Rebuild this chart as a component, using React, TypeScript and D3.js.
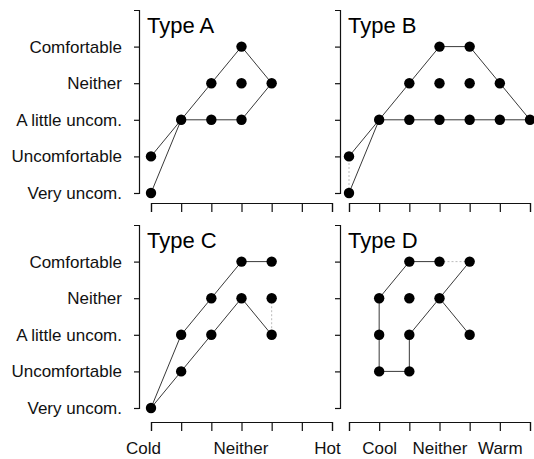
import { useEffect, useRef } from "react";
import * as d3 from "d3";

type Pt = [number, number];

const comfortLevels = [
  "Very uncom.",
  "Uncomfortable",
  "A little uncom.",
  "Neither",
  "Comfortable",
];
const sensationLabelsLeft = ["Cold", "", "", "Neither", "", "", "Hot"];
const sensationLabelsRight = ["", "Cool", "", "Neither", "", "Warm", ""];
const panelTitles = ["Type A", "Type B", "Type C", "Type D"];

// points are [sensation index, comfort index]
const typeAPoints: Pt[] = [
  [0, 0], [0, 1], [1, 2], [2, 2], [3, 2], [2, 3], [3, 3], [4, 3], [3, 4],
];
const typeAUpper: Pt[] = [[0, 1], [1, 2], [2, 3], [3, 4], [4, 3]];
const typeALower: Pt[] = [[0, 0], [1, 2], [2, 2], [3, 2], [4, 3]];

const typeBPoints: Pt[] = [
  [0, 0], [0, 1], [1, 2], [2, 2], [3, 2], [4, 2], [5, 2], [6, 2],
  [2, 3], [3, 3], [4, 3], [5, 3], [3, 4], [4, 4],
];
const typeBUpper: Pt[] = [[0, 1], [1, 2], [2, 3], [3, 4], [4, 4], [5, 3], [6, 2]];
const typeBLower: Pt[] = [[0, 0], [1, 2], [2, 2], [3, 2], [4, 2], [5, 2], [6, 2]];
const typeBFaint: Pt[] = [[0, 0], [0, 1]];

const typeCPoints: Pt[] = [
  [0, 0], [1, 1], [1, 2], [2, 2], [2, 3], [3, 3], [3, 4], [4, 4], [4, 3], [4, 2],
];
const typeCUpper: Pt[] = [[0, 0], [1, 2], [2, 3], [3, 4], [4, 4]];
const typeCLower: Pt[] = [[0, 0], [1, 1], [2, 2], [3, 3], [4, 2]];
const typeCFaint: Pt[] = [[4, 3], [4, 2]];

const typeDPoints: Pt[] = [
  [1, 1], [1, 2], [1, 3], [2, 1], [2, 2], [2, 3], [2, 4], [3, 4], [4, 4], [3, 3], [4, 2],
];
const typeDUpper: Pt[] = [[1, 1], [1, 2], [1, 3], [2, 4], [3, 4]];
const typeDLower: Pt[] = [[1, 1], [2, 1], [2, 2], [3, 3], [4, 2]];
const typeDExtra: Pt[] = [[3, 3], [4, 4]];
const typeDFaint: Pt[] = [[3, 4], [4, 4]];

const panels = [
  { points: typeAPoints, lines: [typeAUpper, typeALower], faint: [] as Pt[][], xLabels: sensationLabelsLeft },
  { points: typeBPoints, lines: [typeBUpper, typeBLower], faint: [typeBFaint], xLabels: sensationLabelsRight },
  { points: typeCPoints, lines: [typeCUpper, typeCLower], faint: [typeCFaint], xLabels: sensationLabelsLeft },
  { points: typeDPoints, lines: [typeDUpper, typeDLower, typeDExtra], faint: [typeDFaint], xLabels: sensationLabelsRight },
];

const WIDTH = 534;
const HEIGHT = 459;
const FONT = "'Liberation Sans', Arial, Helvetica, sans-serif";

// frame geometry of each panel: y axis x, x range, y range, x axis y
const frames = [
  { axisX: 139, x0: 151, x1: 332, y0: 193, y1: 10, axisY: 203 },
  { axisX: 340, x0: 349, x1: 530, y0: 193, y1: 10, axisY: 203 },
  { axisX: 139, x0: 151, x1: 332, y0: 408, y1: 225, axisY: 422 },
  { axisX: 340, x0: 349, x1: 530, y0: 408, y1: 225, axisY: 422 },
];
// the end labels of the cold/hot scale sit a little left of their ticks
const leftLabelShift = [-8, 0, 0, -1, 0, 0, -5];

export default function App() {
  const ref = useRef<SVGSVGElement>(null);

  useEffect(() => {
    const svg = d3.select(ref.current!);
    svg.selectAll("*").remove();

    panels.forEach((p, i) => {
      const f = frames[i];
      const x = d3.scaleLinear().domain([0, 6]).range([f.x0, f.x1]);
      const y = d3.scaleLinear().domain([0, 5]).range([f.y0, f.y1]);
      const showLeft = i % 2 === 0;
      const showBottom = i >= 2;

      const g = svg.append("g");

      const yAxis = d3
        .axisLeft(y)
        .tickValues([0, 1, 2, 3, 4])
        .tickSize(5)
        .tickSizeOuter(5)
        .tickPadding(12)
        .tickFormat((d) => (showLeft ? comfortLevels[d as number] : ""));
      g.append("g")
        .attr("transform", `translate(${f.axisX},0)`)
        .call(yAxis)
        .call((a) => a.selectAll("text").attr("font-size", 17).attr("font-family", FONT).attr("fill", "#111"));

      const xAxis = d3
        .axisBottom(x)
        .tickValues(d3.range(7))
        .tickSize(9)
        .tickSizeOuter(9)
        .tickPadding(11)
        .tickFormat((d) => (showBottom ? p.xLabels[d as number] : ""));
      g.append("g")
        .attr("transform", `translate(0,${f.axisY})`)
        .call(xAxis)
        .call((a) =>
          a
            .selectAll<SVGTextElement, number>("text")
            .attr("font-size", 17)
            .attr("font-family", FONT)
            .attr("fill", "#111")
            .attr("dx", (d) => (showLeft ? leftLabelShift[d] : 0)),
        );

      g.selectAll(".domain, .tick line").attr("stroke", "#111").attr("stroke-width", 1.2);

      const line = d3
        .line<Pt>()
        .x((d) => x(d[0]))
        .y((d) => y(d[1]));

      g.selectAll(".faint")
        .data(p.faint)
        .join("path")
        .attr("class", "faint")
        .attr("d", line)
        .attr("fill", "none")
        .attr("stroke", "#aaa")
        .attr("stroke-width", 0.8)
        .attr("stroke-dasharray", "2,2");

      g.selectAll(".series")
        .data(p.lines)
        .join("path")
        .attr("class", "series")
        .attr("d", line)
        .attr("fill", "none")
        .attr("stroke", "#222")
        .attr("stroke-width", 0.9);

      g.selectAll("circle")
        .data(p.points)
        .join("circle")
        .attr("cx", (d) => x(d[0]))
        .attr("cy", (d) => y(d[1]))
        .attr("r", 5.2)
        .attr("fill", "#000");

      g.append("text")
        .attr("x", f.axisX + 8)
        .attr("y", f.y1 + 23)
        .attr("font-family", FONT)
        .attr("font-size", 22)
        .attr("fill", "#000")
        .text(panelTitles[i]);
    });
  }, []);

  return (
    <svg
      ref={ref}
      width={WIDTH}
      height={HEIGHT}
      style={{ position: "absolute", left: 0, top: 0, background: "#fff" }}
    />
  );
}
